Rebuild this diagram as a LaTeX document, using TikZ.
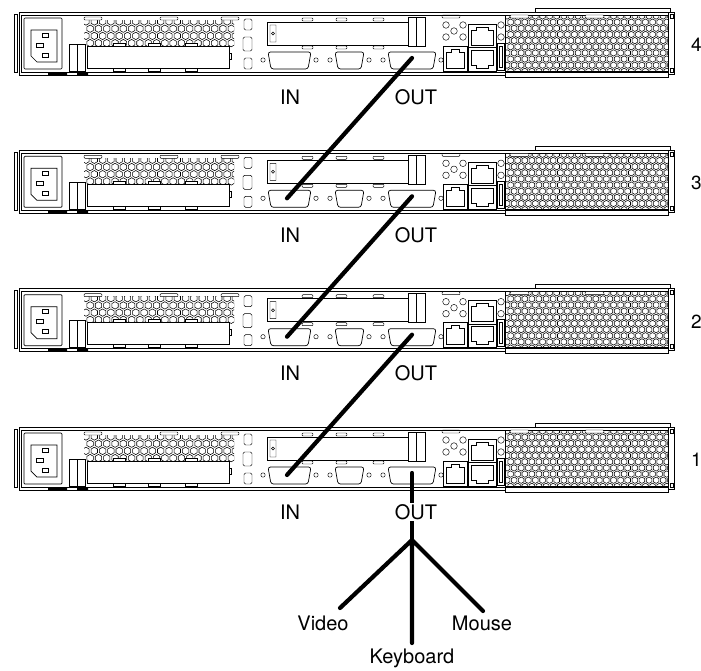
\documentclass[tikz,border=0pt]{standalone}
\usepackage{fontspec}
\setmainfont{TeX Gyre Heros}
\usetikzlibrary{positioning,calc}

\tikzstyle{part}=[draw, line width=0.7pt]
\tikzstyle{thinpart}=[draw, line width=0.45pt]
\tikzstyle{ventline}=[draw, line width=0.55pt]
\tikzstyle{cable}=[line width=4.2pt, line cap=round]
\tikzstyle{lbl}=[font=\fontsize{20}{22}\selectfont, fill=white, inner sep=1.5pt]
\tikzstyle{unitnum}=[font=\fontsize{19}{21}\selectfont, anchor=west, inner sep=0pt]

\newcommand{\hexcell}[3]{%
  \draw[ventline] (#1,#2) +(30:#3pt) -- +(90:#3pt) -- +(150:#3pt) -- +(210:#3pt) -- +(270:#3pt) -- +(330:#3pt) -- cycle;}

\newcommand{\dsub}[2]{%
  \draw[part, rounded corners=2.5pt] (#1,52) -- (#2,52) -- (#2-3,69) -- (#1+3,69) -- cycle;
  \draw[thinpart] (#1-5,60) circle (2.2pt) (#2+5,60) circle (2.2pt);}

\newcommand{\backpanel}[2]{% #1 vertical offset, #2 unit number
\begin{scope}[shift={(0,#1)}]
  % frame
  \draw[part] (19,12) -- (672,12) (19,12) -- (19,75) -- (505,75);
  \draw[part] (14,14) rectangle (17,72);
  \draw[thinpart] (21,15) -- (505,15) (21,15) -- (21,72) -- (505,72);
  \fill (48,72) rectangle (67,75) (77,72) rectangle (88,75);
  % mains inlet
  \draw[part, rounded corners=1pt] (24,18) rectangle (62,69);
  \draw[part] (31,30) -- (57,30) -- (57,62) -- (37,62) -- (31,56) -- cycle;
  \draw[thinpart] (42,33) rectangle (48,37) (36,43) rectangle (43,47) (42,53) rectangle (48,57);
  \draw[part] (69,44) rectangle (85,71) (77,44) -- (77,71);
  % left vent
  \begin{scope}
    \clip (84,20) rectangle (234,47);
    \foreach \r in {0,...,3}
      \foreach \c in {0,...,18}
        {\pgfmathsetmacro\hx{86+mod(\r,2)*4.15+8.3*\c}
         \hexcell{\hx}{21.5+7.2*\r}{3.7}}
  \end{scope}
  \foreach \x in {84,160,221}
    \draw[thinpart, fill=white, rounded corners=1pt] (\x,17) rectangle (\x+18,20);
  % low profile card
  \draw[part, fill=white] (87,46) rectangle (229,68);
  \draw[thinpart] (229,53) -- (231,53) -- (231,59) -- (229,59);
  \foreach \x in {113,148,185}
    \draw[thinpart, fill=white] (\x,43) rectangle (\x+12,46) (\x,68) rectangle (\x+12,71);
  \draw[thinpart, rounded corners=1.5pt] (244,19) rectangle (252,30) (243,37) rectangle (252,51) (244,58) rectangle (252,69);
  % full height card
  \draw[part] (267,22) rectangle (408,45);
  \draw[thinpart] (270,25) rectangle (276,42) (273,33.5) circle (1.5pt);
  \foreach \x in {302,336,373}
    \draw[thinpart, rounded corners=1pt] (\x,18) rectangle (\x+11,21) (\x,46) rectangle (\x+11,49);
  \draw[part, fill=white] (408,17) rectangle (425,46) (416,17) -- (416,46);
  % video ports
  \dsub{268}{311}
  \dsub{335}{364}
  \dsub{388}{436}
  % network and usb
  \draw[thinpart, rounded corners=1pt] (442,15) rectangle (460,18);
  \foreach \p in {(446,25),(446,37),(454,31),(463,25),(463,37),(501,25),(501,37)}
    \draw[thinpart] \p circle (3.3pt);
  \draw[part] (443,46) rectangle (467,71);
  \draw[thinpart] (446,52) -- (451,52) -- (451,49) -- (459,49) -- (459,52) -- (464,52) -- (464,68) -- (446,68) -- cycle;
  \draw[part] (468,24) rectangle (496,71) (468,47.5) -- (496,47.5);
  \draw[thinpart] (471,30) -- (476,30) -- (476,27) -- (488,27) -- (488,30) -- (493,30) -- (493,45) -- (471,45) -- cycle;
  \draw[thinpart] (471,50) -- (493,50) -- (493,65) -- (488,65) -- (488,68) -- (476,68) -- (476,65) -- (471,65) -- cycle;
  \draw[part, fill=white] (497,43) rectangle (504,70);
  \draw[thinpart] (499,46) rectangle (502,67);
  % right vent
  \draw[part] (535,8) rectangle (670,12);
  \begin{scope}
    \clip (505,15) rectangle (668,71);
    \foreach \r in {0,...,9}
      \foreach \c in {0,...,23}
        {\pgfmathsetmacro\hx{507+mod(\r,2)*3.55+7.1*\c}
         \hexcell{\hx}{16+6.15*\r}{3.2}}
  \end{scope}
  \draw[part] (505,15) rectangle (668,71);
  \draw[part] (505,72) rectangle (668,77);
  \draw[part] (668,12) rectangle (674,74);
  \draw[thinpart] (670,14) rectangle (673,18) (670,68) rectangle (673,72);
  \foreach \x in {510,585}
    \draw[thinpart, fill=white, rounded corners=1pt] (\x,15) rectangle (\x+19,18);
  % cable jacks
  \coordinate (injack#2) at (287,60);
  \coordinate (outjack#2) at (412,58);
\end{scope}}

\begin{document}
\begin{tikzpicture}[x=1pt,y=-1pt]
\useasboundingbox (0,0) rectangle (701,670);

\backpanel{0}{4}
\backpanel{138.3}{3}
\backpanel{276.7}{2}
\backpanel{415}{1}

% daisy chain
\draw[cable] (outjack4) -- (injack3);
\draw[cable] (outjack3) -- (injack2);
\draw[cable] (outjack2) -- (injack1);

% breakout cable
\coordinate (split) at (412,540);
\coordinate (vend) at (340,608);
\coordinate (kend) at (412,643);
\coordinate (mend) at (483,611);
\draw[cable] (outjack1) -- (split);
\draw[cable] (split) -- (vend) (split) -- (kend) (split) -- (mend);

% labels
\foreach \n/\dy in {4/0,3/138.3,2/276.7,1/415} {
  \node[lbl] (in\n) at (290,97+\dy) {IN};
  \node[lbl] (out\n) at (416,97+\dy) {OUT};
  \node[unitnum] (unit\n) at (691,45+\dy) {\n};
}
\node[lbl] (video) at (323,623) {Video};
\node[lbl] (mouse) at (482,623) {Mouse};
\node[lbl, below=4pt of kend] (keyboard) {Keyboard};
\end{tikzpicture}
\end{document}
